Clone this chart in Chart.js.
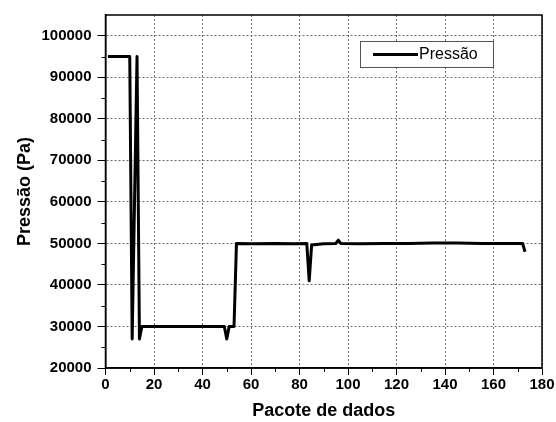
<!DOCTYPE html>
<html>
<head>
<meta charset="utf-8">
<script src="https://cdn.jsdelivr.net/npm/chart.js@4"></script>
<style>
	html, body { margin: 0; padding: 0; background: #fff; }
	canvas { display: block; }
</style>
</head>
<body>
<canvas id="chart" width="556" height="422"></canvas>
<script>
// packet index (x) and pressure in Pa (y) at the corners of the trace
const packet = [1, 10, 11, 13, 14, 15, 49, 50, 51, 53, 54, 60, 70, 78, 83, 84, 85, 90, 95, 96, 97, 105, 115, 125, 135, 145, 155, 165, 172, 173]
const pressure = [95000, 95000, 27000, 95000, 27000, 30000, 30000, 27000, 30000, 30000, 50000, 49900, 50000, 49900, 50000, 41000, 49600, 49900, 50000, 50800, 50000, 49900, 50000, 50000, 50100, 50100, 50000, 50000, 50000, 48000]
const xTicks = [0, 20, 40, 60, 80, 100, 120, 140, 160, 180]
const yTicks = [20000, 30000, 40000, 50000, 60000, 70000, 80000, 90000, 100000]
const xMinor = [10, 30, 50, 70, 90, 110, 130, 150, 170]
const yMinor = [25000, 35000, 45000, 55000, 65000, 75000, 85000, 95000]
const seriesLabel = 'Pressão'
const xTitle = 'Pacote de dados'
const yTitle = 'Pressão (Pa)'

const FONT = "'Liberation Sans', Arial, sans-serif"
const GRID = '#6e6e6e'

// box around the plot + the short minor ticks
const framePlugin = {
	id: 'frame',
	afterDraw(chart) {
		const { ctx, chartArea: a, scales } = chart
		ctx.save()
		ctx.strokeStyle = '#000'
		ctx.lineWidth = 1.5
		ctx.strokeRect(a.left, a.top, a.right - a.left, a.bottom - a.top)

		ctx.lineWidth = 1
		ctx.beginPath()
		xMinor.forEach(v => {
			const px = Math.round(scales.x.getPixelForValue(v)) + 0.5
			ctx.moveTo(px, a.bottom)
			ctx.lineTo(px, a.bottom + 4)
		})
		yMinor.forEach(v => {
			const py = Math.round(scales.y.getPixelForValue(v)) + 0.5
			ctx.moveTo(a.left, py)
			ctx.lineTo(a.left - 4, py)
		})
		ctx.stroke()
		ctx.restore()
	}
}

// boxed legend sitting inside the plot, top right
const legendBox = {
	id: 'legendBox',
	afterDraw(chart) {
		const { ctx } = chart
		const ds = chart.data.datasets[0]
		ctx.save()
		ctx.fillStyle = '#fff'
		ctx.fillRect(360, 41, 133, 26)
		ctx.strokeStyle = '#555'
		ctx.lineWidth = 1
		ctx.strokeRect(360.5, 41.5, 133, 26)

		ctx.strokeStyle = ds.borderColor
		ctx.lineWidth = 3
		ctx.beginPath()
		ctx.moveTo(373, 54.5)
		ctx.lineTo(418, 54.5)
		ctx.stroke()

		ctx.fillStyle = '#000'
		ctx.font = '16px ' + FONT
		ctx.textBaseline = 'middle'
		ctx.fillText(ds.label, 419, 55)
		ctx.restore()
	}
}

new Chart(document.getElementById('chart').getContext('2d'), {
	type: 'line',
	data: {
		datasets: [{
			label: seriesLabel,
			data: packet.map((x, i) => ({ x: x, y: pressure[i] })),
			borderColor: '#000',
			borderWidth: 3,
			borderJoinStyle: 'round',
			pointRadius: 0,
			tension: 0,
			fill: false,
		}]
	},
	plugins: [framePlugin, legendBox],
	options: {
		responsive: false,
		animation: false,
		layout: {
			padding: { left: 14, top: 11, right: 14, bottom: 0 }
		},
		plugins: {
			legend: { display: false },
			tooltip: { enabled: false },
		},
		scales: {
			x: {
				type: 'linear',
				min: 0,
				max: 180,
				afterFit: (scale) => { scale.height = 54 },
				afterBuildTicks: (scale) => {
					scale.ticks = xTicks.map(v => ({ value: v }))
				},
				ticks: {
					autoSkip: false,
					maxRotation: 0,
					padding: 1,
					color: '#000',
					font: { family: FONT, size: 15, weight: 'bold' },
					callback: (v) => String(v),
				},
				grid: {
					color: GRID,
					tickColor: '#000',
					tickLength: 7,
					lineWidth: 1,
				},
				border: { color: '#000', width: 1.5, dash: [2, 2] },
				title: {
					display: true,
					text: xTitle,
					color: '#000',
					padding: 0,
					font: { family: FONT, size: 18, weight: 'bold' },
				},
			},
			y: {
				type: 'linear',
				min: 20000,
				max: 105000,
				afterFit: (scale) => { scale.width = 91.5 },
				afterBuildTicks: (scale) => {
					scale.ticks = yTicks.map(v => ({ value: v }))
				},
				ticks: {
					autoSkip: false,
					padding: 6,
					color: '#000',
					font: { family: FONT, size: 15, weight: 'bold' },
					callback: (v) => String(v),
				},
				grid: {
					color: GRID,
					tickColor: '#000',
					tickLength: 8,
					lineWidth: 1,
				},
				border: { color: '#000', width: 1.5, dash: [2, 2] },
				title: {
					display: true,
					text: yTitle,
					color: '#000',
					padding: 0,
					font: { family: FONT, size: 18, weight: 'bold' },
				},
			},
		},
	},
})
</script>
</body>
</html>
